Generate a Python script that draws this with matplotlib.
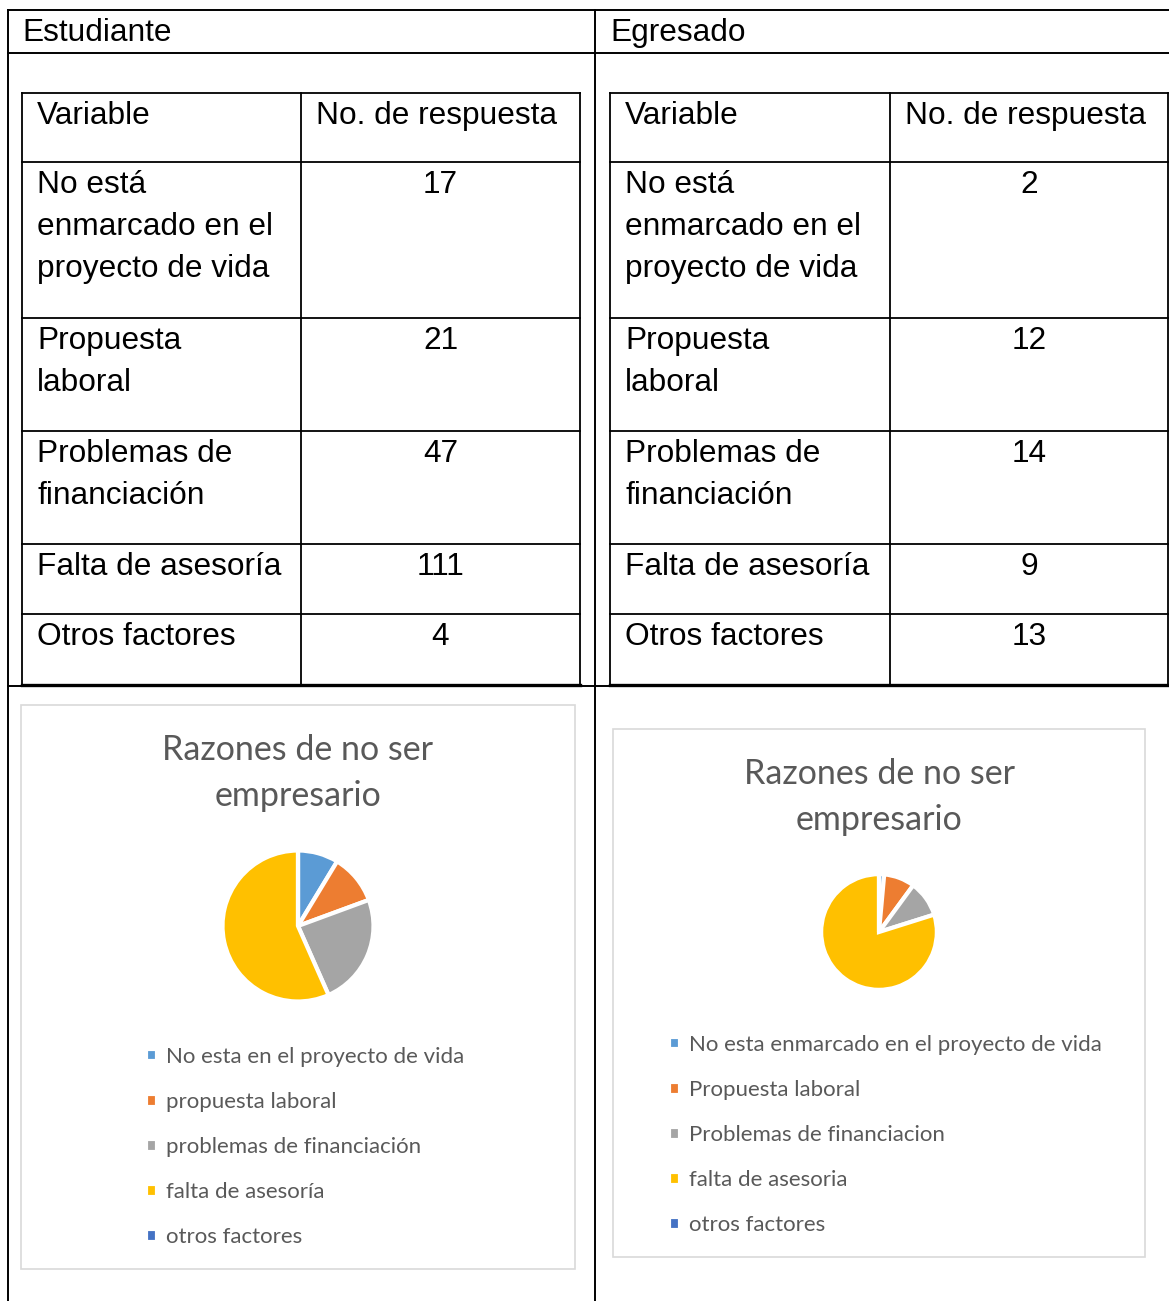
import matplotlib

matplotlib.use("Agg")
import matplotlib.pyplot as plt
from matplotlib.patches import Rectangle

W, H = 1169, 1301

# table data
variables = [
    "No está\nenmarcado en el\nproyecto de vida",
    "Propuesta\nlaboral",
    "Problemas de\nfinanciación",
    "Falta de asesoría",
    "Otros factores",
]
resp_estudiante = [17, 21, 47, 111, 4]
resp_egresado = [2, 12, 14, 9, 13]

# pie data (as drawn in the original charts)
pie_title = "Razones de no ser\nempresario"
labels_est = [
    "No esta en el proyecto de vida",
    "propuesta laboral",
    "problemas de financiación",
    "falta de asesoría",
    "otros factores",
]
pie_est = [17, 21, 47, 111, 0]
labels_egr = [
    "No esta enmarcado en el proyecto de vida",
    "Propuesta laboral",
    "Problemas de financiacion",
    "falta de asesoria",
    "otros factores",
]
pie_egr = [2, 12, 14, 111, 0]
colors = ["#5B9BD5", "#ED7D31", "#A5A5A5", "#FFC000", "#4472C4"]

fig = plt.figure(figsize=(W / 100, H / 100), dpi=100)
ax = fig.add_axes([0, 0, 1, 1])
ax.set_xlim(0, W)
ax.set_ylim(H, 0)
ax.axis("off")

lw_outer = 1.4
lw_inner = 1.3
tfont = dict(family="Liberation Sans", fontsize=22.8, color="black")

# outer table
ax.plot([8, W], [10, 10], color="black", lw=lw_outer)
ax.plot([8, W], [53, 53], color="black", lw=lw_outer)
ax.plot([8, W], [686, 686], color="black", lw=lw_outer)
ax.plot([8, 8], [10, H], color="black", lw=lw_outer)
ax.plot([595, 595], [10, H], color="black", lw=lw_outer)
ax.text(22, 33, "Estudiante", va="center", ha="left", **tfont)
ax.text(610, 33, "Egresado", va="center", ha="left", **tfont)

row_y = [93, 162, 318, 431, 544, 614, 685]


def draw_table(x0, xm, x1, values):
    for y in row_y[:-1]:
        ax.plot([x0, x1], [y, y], color="black", lw=lw_inner)
    ax.plot([x0, x1], [row_y[-1], row_y[-1]], color="black", lw=2.4)
    for x in (x0, xm, x1):
        ax.plot([x, x], [row_y[0], row_y[-1]], color="black", lw=lw_inner)
    ax.text(x0 + 15, row_y[0] + 8, "Variable", va="top", ha="left", **tfont)
    ax.text(xm + 15, row_y[0] + 8, "No. de respuesta", va="top", ha="left", **tfont)
    xc = (xm + x1) / 2
    for i, (var, val) in enumerate(zip(variables, values)):
        y = row_y[i + 1] + 8
        ax.text(x0 + 15, y, var, va="top", ha="left", linespacing=1.53, **tfont)
        ax.text(xc, y, str(val), va="top", ha="center", **tfont)


draw_table(22, 301, 580, resp_estudiante)
draw_table(610, 890, 1168, resp_egresado)

# chart boxes
ax.add_patch(Rectangle((21, 705), 554, 564, fill=False, ec="#D9D9D9", lw=1.2))
ax.add_patch(Rectangle((613, 729), 532, 528, fill=False, ec="#D9D9D9", lw=1.2))

cfont = "Lato"


def draw_pie(cx, cy, r, title_y, values, labels, leg_x, leg_y):
    ax.text(cx, title_y, pie_title, ha="center", va="top", fontsize=24.5,
            color="#595959", family=cfont, linespacing=1.55)
    pax = fig.add_axes([(cx - r) / W, 1 - (cy + r) / H, 2 * r / W, 2 * r / H])
    wedges, _ = pax.pie(values, colors=colors, startangle=90, counterclock=False,
                        wedgeprops=dict(edgecolor="white", linewidth=3))
    pax.set_xlim(-1.02, 1.02)
    pax.set_ylim(-1.02, 1.02)
    pax.set_aspect("equal")
    fig.legend(wedges, labels, loc="upper left",
               bbox_to_anchor=(leg_x / W, 1 - leg_y / H), frameon=False,
               prop=dict(family=cfont, size=16), labelcolor="#595959",
               handlelength=0.5, handleheight=0.5, handletextpad=0.4,
               labelspacing=1.13, borderpad=0, borderaxespad=0)


draw_pie(298, 926, 77, 734, pie_est, labels_est, 146, 1047)
draw_pie(879, 932, 59, 758, pie_egr, labels_egr, 669, 1035)

fig.savefig("out.png", dpi=100)
